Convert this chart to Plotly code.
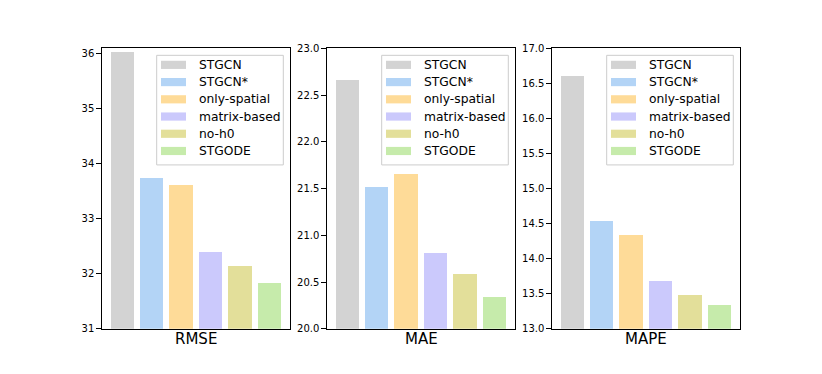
import plotly.graph_objects as go

# bar values
methods = ['STGCN', 'STGCN*', 'only-spatial', 'matrix-based', 'no-h0', 'STGODE']
colors = ['#d3d3d3', '#b3d4f6', '#fedb98', '#cbc9fc', '#e3df9a', '#c6ebab']

metrics = ['RMSE', 'MAE', 'MAPE']
rmse = [36.01, 33.73, 33.60, 32.38, 32.13, 31.82]
mae = [22.66, 21.51, 21.65, 20.81, 20.58, 20.34]
mape = [16.60, 14.53, 14.34, 13.68, 13.48, 13.34]

values = [rmse, mae, mape]
yranges = [[31, 36.09], [20.0, 23.0], [13.0, 17.0]]
ydtick = [1, 0.5, 0.5]
yfmt = ['d', '.1f', '.1f']

W, H = 822, 374
# axes boxes in pixels (left, right)
boxes = [(102.3, 290.0), (327.3, 515.0), (552.3, 740.0)]
top, bottom = 44.5, 332.7

fig = go.Figure()

def px(x):
    return x / W

def py(y):
    return 1 - y / H

for k in range(3):
    ax = '' if k == 0 else str(k + 1)
    for i, m in enumerate(methods):
        fig.add_trace(go.Bar(
            x=[i], y=[values[k][i]], name=m, width=0.8,
            marker=dict(color=colors[i], line=dict(width=0)),
            xaxis='x' + ax, yaxis='y' + ax, showlegend=False,
            hoverinfo='skip'))
    x0, x1 = boxes[k]
    fig.update_layout(**{
        'xaxis' + ax: dict(domain=[px(x0), px(x1)], range=[-0.69, 5.69],
                           anchor='y' + ax, showticklabels=False, ticks='',
                           showgrid=False, zeroline=False, showline=True,
                           linecolor='black', linewidth=1, mirror=True),
        'yaxis' + ax: dict(domain=[py(bottom), py(top)], range=yranges[k],
                           anchor='x' + ax, dtick=ydtick[k], tickformat=yfmt[k],
                           ticks='outside', ticklen=5, tickcolor='black',
                           tickfont=dict(family='DejaVu Sans', size=10, color='black'),
                           showgrid=False, zeroline=False, showline=True,
                           linecolor='black', linewidth=1, mirror=True),
    })
    fig.add_annotation(text=metrics[k], x=px((x0 + x1) / 2), y=py(343),
                       xref='paper', yref='paper', showarrow=False,
                       xanchor='center', yanchor='middle',
                       font=dict(family='DejaVu Sans', size=15, color='black'))

    # legend box, drawn per panel like matplotlib does
    fig.add_shape(type='rect', xref='paper', yref='paper',
                  x0=px(x1 - 133.3), x1=px(x1 - 6.7), y0=py(164.3), y1=py(51.7),
                  fillcolor='rgba(255,255,255,0.8)', line=dict(color='#cccccc', width=1))
    for i, m in enumerate(methods):
        yc = 61.5 + 17.7 * i
        fig.add_shape(type='rect', xref='paper', yref='paper',
                      x0=px(x1 - 129), x1=px(x1 - 104), y0=py(yc + 4.2), y1=py(yc - 4.2),
                      fillcolor=colors[i], line=dict(width=0))
        fig.add_annotation(text=m, x=px(x1 - 93.3), y=py(yc), xref='paper', yref='paper',
                           showarrow=False, xanchor='left', yanchor='middle',
                           font=dict(family='DejaVu Sans', size=12.3, color='black'))

fig.update_layout(width=W, height=H, margin=dict(l=0, r=0, t=0, b=0),
                  plot_bgcolor='white', paper_bgcolor='white',
                  font=dict(family='DejaVu Sans', color='black'),
                  bargap=0, barmode='overlay', showlegend=False)

# the page body has a default 8px margin; drop it so the figure sits at 0,0
fig.write_html("out.html", config={'displayModeBar': False},
               post_script="document.body.style.margin='0';")
